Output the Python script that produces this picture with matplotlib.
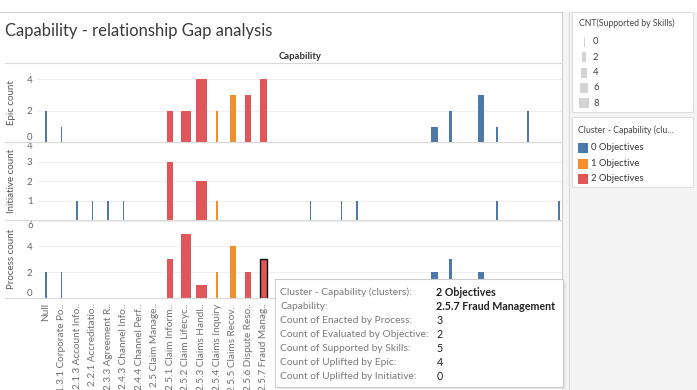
import numpy as np
import matplotlib.pyplot as plt
from matplotlib.patches import Rectangle
from matplotlib.lines import Line2D

# ------------------------------
# Data
# ------------------------------
# columns 15..33 sit under the tooltip, so their names can't be read
capabilities = ['Null', '1.3.1 Corporate Po..', '2.1.3 Account Info..', '2.2.1 Accreditatio..',
                '2.3.3 Agreement R..', '2.4.3 Channel Info..', '2.4.4 Channel Perf..',
                '2.5 Claim Manage..', '2.5.1 Claim Inform..', '2.5.2 Claim Lifecyc..',
                '2.5.3 Claims Handl..', '2.5.4 Claims Inquiry', '2.5.5 Claims Recov..',
                '2.5.6 Dispute Reso..', '2.5.7 Fraud Manag..'] + [''] * 19
clusters = [0, 0, 0, 0, 0, 0, 0, 0, 2, 2, 2, 1, 1, 2, 2] + [0] * 19
epic_count = [2, 1, 0, 0, 0, 0, 0, 0, 2, 2, 4, 2, 3, 3, 4,
              0, 0, 0, 0, 0, 0, 0, 0, 0, 0, 1, 2, 0, 3, 1, 0, 2, 0, 0]
initiative_count = [0, 0, 1, 1, 1, 1, 0, 0, 3, 0, 2, 1, 0, 0, 0,
                    0, 0, 1, 0, 1, 1, 0, 0, 0, 0, 0, 0, 0, 0, 1, 0, 0, 0, 1]
process_count = [2, 2, 0, 0, 0, 0, 0, 0, 3, 5, 1, 2, 4, 2, 3,
                 0, 0, 0, 0, 0, 0, 0, 0, 0, 0, 2, 3, 0, 2, 0, 0, 0, 0, 0]
supported_by_skills = [1, 0, 0, 0, 0, 0, 0, 0, 4, 7, 9, 1, 4, 4, 5,
                       0, 0, 0, 0, 0, 0, 0, 0, 0, 0, 5, 1, 0, 4, 0, 0, 0, 0, 0]
selected = 14  # hovered mark (2.5.7 in the process row)

cluster_names = ['0 Objectives', '1 Objective', '2 Objectives']
cluster_colors = ['#4e79a7', '#f28e2b', '#e15759']
size_legend = [0, 2, 4, 6, 8]

tooltip_rows = [
    ('Cluster - Capability (clusters):', '2 Objectives', True),
    ('Capability:', '2.5.7 Fraud Management', True),
    ('Count of Enacted by Process:', '3', False),
    ('Count of Evaluated by Objective:', '2', False),
    ('Count of Supported by Skills:', '5', False),
    ('Count of Uplifted by Epic:', '4', False),
    ('Count of Uplifted by Initiative:', '0', False),
]

W, H = 697, 390
plt.rcParams['font.family'] = ['Lato', 'DejaVu Sans']


def fx(px):
    return px / W


def fy(py):
    return 1 - py / H


def hline(fig, x0, x1, y, color='#d9d9d9', lw=0.8, z=1):
    fig.add_artist(Line2D([fx(x0), fx(x1)], [fy(y), fy(y)], color=color, lw=lw, zorder=z))


def vline(fig, x, y0, y1, color='#d9d9d9', lw=0.8, z=1):
    fig.add_artist(Line2D([fx(x), fx(x)], [fy(y0), fy(y1)], color=color, lw=lw, zorder=z))


fig = plt.figure(figsize=(W / 100, H / 100), dpi=100)

# grey side panel behind the legends
fig.add_artist(Rectangle((fx(562), 0), 1 - fx(562), fy(12), color='#f4f4f4', lw=0, zorder=0))
hline(fig, 0, 562, 11.5, color='#cfcfcf')
vline(fig, 562, 12, 390, color='#d0d0d0')
vline(fig, 568.5, 12, 390, color='#d8d8d8')

fig.text(fx(5), fy(31), 'Capability - relationship Gap analysis', fontsize=12,
         color='#3a3a3a', va='center', ha='left')
fig.text(fx(300), fy(56.5), 'Capability', fontsize=6.8, color='#333333',
         va='center', ha='center', fontweight='bold')

# ------------------------------
# Three panes
# ------------------------------
x = np.arange(len(capabilities))
widths = 0.09 + 0.072 * np.array(supported_by_skills)
colors = [cluster_colors[c] for c in clusters]
x_left, x_right = 38.2, 562
xlim = (-0.5, -0.5 + (x_right - x_left) / 15.55)

panes = [
    ('Epic count', epic_count, 63, 142.4, 5.03, [0, 2, 4]),
    ('Initiative count', initiative_count, 142.4, 220, 4.0, [1, 2, 3, 4]),
    ('Process count', process_count, 220, 297.7, 6.07, [0, 2, 4, 6]),
]

axes = []
for i, (name, vals, top, bottom, ymax, ticks) in enumerate(panes):
    ax = fig.add_axes([fx(x_left), fy(bottom), fx(x_right) - fx(x_left), (bottom - top) / H])
    ax.set_xlim(*xlim)
    ax.set_ylim(0, ymax)
    for t in ticks:
        if t > 0:
            ax.axhline(t, color='#efefef', lw=0.8, zorder=0)
    edge = ['none'] * len(x)
    if i == 2:
        edge[selected] = '#111111'
    ax.bar(x, vals, width=widths, color=colors, edgecolor=edge, linewidth=1.0, zorder=2)
    for s in ax.spines.values():
        s.set_visible(False)
    ax.set_yticks(ticks)
    ax.set_yticklabels([str(t) for t in ticks])
    ax.tick_params(axis='y', length=0, pad=4, labelsize=7, labelcolor='#666666')
    labels = ax.get_yticklabels()
    if ticks[0] == 0:
        labels[0].set_va('bottom')
    if ticks[-1] >= ymax - 0.1:
        labels[-1].set_va('top')
    ax.set_ylabel(name, fontsize=7, color='#555555')
    ax.yaxis.set_label_coords(-(x_left - 16) / (x_right - x_left), 0.5)
    ax.patch.set_alpha(0)
    axes.append(ax)
    hline(fig, 5, 562, bottom)

hline(fig, 5, 562, 63.3)

axes[0].set_xticks([])
axes[1].set_xticks([])
axes[2].set_xticks(x)
axes[2].set_xticklabels(capabilities, rotation=90, ha='center', va='top')
axes[2].tick_params(axis='x', length=0, pad=4, labelsize=7.2, labelcolor='#707070')

# ------------------------------
# Legends
# ------------------------------
fig.add_artist(Rectangle((fx(571.5), fy(112)), fx(693) - fx(571.5), (112 - 12) / H,
                         facecolor='white', edgecolor='#dddddd', lw=0.8, zorder=3))
fig.text(fx(579), fy(23), 'CNT(Supported by Skills)', fontsize=6.3, color='#444444',
         va='center', zorder=4)
for k, s in enumerate(size_legend):
    yc = 42 + k * 15.3
    w = 1.0 + 1.2 * s
    fig.add_artist(Rectangle((fx(584 - w / 2), fy(yc + 5)), w / W, 10 / H,
                             facecolor='#d3d3d3', lw=0, zorder=4))
    fig.text(fx(593), fy(yc), str(s), fontsize=6.8, color='#444444', va='center', zorder=4)

fig.add_artist(Rectangle((fx(571.5), fy(187)), fx(693) - fx(571.5), (187 - 117) / H,
                         facecolor='white', edgecolor='#dddddd', lw=0.8, zorder=3))
fig.text(fx(578), fy(130), 'Cluster - Capability (clu...', fontsize=6.3, color='#444444',
         va='center', zorder=4)
for k, (nm, col) in enumerate(zip(cluster_names, cluster_colors)):
    yc = 148 + k * 15.5
    fig.add_artist(Rectangle((fx(578), fy(yc + 5)), 10 / W, 10 / H,
                             facecolor=col, lw=0, zorder=4))
    fig.text(fx(591), fy(yc), nm, fontsize=6.8, color='#333333', va='center', zorder=4)

# ------------------------------
# Tooltip
# ------------------------------
fig.add_artist(Rectangle((fx(277), fy(389)), (566 - 277) / W, (389 - 281) / H,
                         facecolor='#e6e6e6', lw=0, zorder=9))
fig.add_artist(Rectangle((fx(275), fy(386.5)), (563 - 275) / W, (386.5 - 279.3) / H,
                         facecolor='white', edgecolor='#cccccc', lw=0.8, zorder=10))
for k, (lab, val, bold) in enumerate(tooltip_rows):
    yc = 292.7 + k * 13.9
    fig.text(fx(280.5), fy(yc), lab, fontsize=7.4, color='#7a7a7a', va='center', zorder=11)
    fig.text(fx(436.5), fy(yc), val, fontsize=7.7, color='#222222', va='center', zorder=11,
             fontweight='bold' if bold else 'normal')

fig.savefig('out.png', dpi=100)
